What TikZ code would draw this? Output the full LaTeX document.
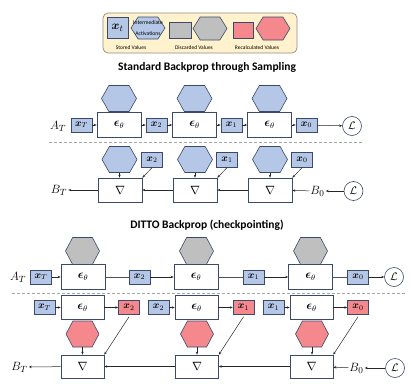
\documentclass[tikz,border=0pt]{standalone}
\usepackage{amsmath}
\usepackage{fontspec}
\newfontfamily\carlito{Carlito}
\usetikzlibrary{arrows.meta,calc}
\definecolor{sblue}{HTML}{B4C7E7}
\definecolor{sred}{HTML}{F4888C}
\definecolor{sgray}{HTML}{BFBFBF}
\definecolor{edgec}{HTML}{3B4A6B}
\definecolor{legbg}{HTML}{FFF2CC}
\definecolor{legedge}{HTML}{8C8C8C}
\definecolor{dashc}{HTML}{A6A6A6}
\definecolor{linec}{HTML}{262626}
\tikzset{
  hexline/.style={draw=edgec, line width=0.6pt},
  hexbox/.style={inner sep=0pt, outer sep=0pt, align=center},
  xb/.style={draw=edgec, fill=sblue, line width=0.6pt, minimum width=21pt, minimum height=14pt, inner sep=0pt, font=\fontsize{10}{10}\selectfont},
  xr/.style={xb, fill=sred},
  eb/.style={draw=edgec, fill=white, line width=0.6pt, minimum width=44pt, minimum height=25pt, inner sep=0pt, font=\fontsize{12}{12}\selectfont},
  nb/.style={eb, minimum height=24pt},
  lab/.style={inner sep=1pt, font=\fontsize{12.5}{12.5}\selectfont},
  lc/.style={draw=edgec, circle, line width=0.6pt, minimum size=19pt, inner sep=0pt, font=\fontsize{11}{11}\selectfont},
  arr/.style={-{Stealth[length=3pt,width=2.4pt]}, draw=linec, line width=0.5pt},
  ln/.style={draw=linec!80, line width=0.7pt},
  dashline/.style={draw=dashc, dashed, line width=0.8pt, dash pattern=on 3pt off 2pt},
  ttl/.style={font=\carlito\bfseries\fontsize{11.5}{12}\selectfont, inner sep=0pt},
  legtxt/.style={font=\carlito\fontsize{5.5}{5.5}\selectfont, inner sep=0pt},
}
\newcommand\hexat[7]{%
  \draw[hexline, fill=#6] ({#2-#4/2},#3) -- ({#2-#4*0.29},{#3-#5/2}) -- ({#2+#4*0.29},{#3-#5/2}) -- ({#2+#4/2},#3) -- ({#2+#4*0.29},{#3+#5/2}) -- ({#2-#4*0.29},{#3+#5/2}) -- cycle;
  \node[hexbox, minimum width=#4pt, minimum height=#5pt] (#1) at (#2,#3) {#7};}
\newcommand\bx[1]{\boldsymbol{x}_{#1}}
\newcommand\ep{\boldsymbol{\epsilon}_\theta}
\begin{document}
\begin{tikzpicture}[x=1pt,y=-1pt]
\useasboundingbox (0,0) rectangle (415,388);
% ---------- legend ----------
\draw[draw=legedge, fill=legbg, rounded corners=5pt, line width=0.7pt] (103,13) rectangle (297,53);
\node[xb, minimum width=21pt, minimum height=21pt, font=\fontsize{13}{13}\selectfont] (lgx) at (117.5,27.5) {$\bx{t}$};
\hexat{lgh1}{148}{28}{34}{22}{sblue}{\carlito\fontsize{5.6}{6}\selectfont Intermediate\\[-0.5pt]\carlito\fontsize{5.6}{6}\selectfont Activations}
\node[draw=edgec, fill=sgray, line width=0.6pt, minimum width=22pt, minimum height=16pt, inner sep=0pt] (lgg) at (180,30) {};
\hexat{lgh2}{210}{28.5}{34}{23}{sgray}{}
\node[draw=edgec, fill=sred, line width=0.6pt, minimum width=20pt, minimum height=16pt, inner sep=0pt] (lgr) at (243,30) {};
\hexat{lgh3}{273}{28.5}{34}{23}{sred}{}
\node[legtxt] (lt1) at (131,48) {Stored Values};
\node[legtxt] (lt2) at (194,48) {Discarded Values};
\node[legtxt] (lt3) at (257,48) {Recalculated Values};
% ---------- titles ----------
\node[ttl] (t1) at (207,67) {Standard Backprop through Sampling};
\node[ttl] (t2) at (207,225) {DITTO Backprop (checkpointing)};
% ---------- row A ----------
\node[lab] (AT1) at (58,126) {$A_T$};
\node[xb] (a0) at (81.5,125) {$\bx{T}$};
\node[eb] (ae1) at (119,125) {$\ep$};
\node[xb] (a1) at (156.5,125) {$\bx{2}$};
\node[eb] (ae2) at (194.5,125) {$\ep$};
\node[xb] (a2) at (231.5,125) {$\bx{1}$};
\node[eb] (ae3) at (269.5,125) {$\ep$};
\node[xb] (a3) at (306.5,125) {$\bx{0}$};
\node[lc] (aL) at (352,126) {$\mathcal{L}$};
\hexat{ah1}{119}{98.5}{35}{26}{sblue}{}
\hexat{ah2}{194.5}{98.5}{35}{26}{sblue}{}
\hexat{ah3}{269.5}{98.5}{35}{26}{sblue}{}
\draw[arr] (a0) -- (ae1);
\draw[arr] (ae1) -- (a1);
\draw[arr] (a1) -- (ae2);
\draw[arr] (ae2) -- (a2);
\draw[arr] (a2) -- (ae3);
\draw[arr] (ae3) -- (a3);
\draw[arr] (a3) -- (aL);
\draw[dashline] (49,142) -- (363,142);
% ---------- row B ----------
\node[lab] (BT1) at (59,190) {$B_T$};
\node[nb] (b1) at (120,190) {$\nabla$};
\node[nb] (b2) at (195,190) {$\nabla$};
\node[nb] (b3) at (270,190) {$\nabla$};
\node[lab] (B01) at (317.5,191) {$B_0$};
\node[lc] (bL) at (353.5,191) {$\mathcal{L}$};
\hexat{bh1}{119.5}{159.5}{35}{26}{sblue}{}
\hexat{bh2}{195}{159.5}{35}{26}{sblue}{}
\hexat{bh3}{270}{159.5}{35}{26}{sblue}{}
\node[xb, minimum height=15pt] (bx1) at (152,160) {$\bx{2}$};
\node[xb, minimum height=15pt] (bx2) at (227,160) {$\bx{1}$};
\node[xb, minimum height=15pt] (bx3) at (302,160) {$\bx{0}$};
\draw[arr] (bL) -- (B01);
\draw[arr] (B01) -- (b3);
\draw[arr] (b3) -- (b2);
\draw[arr] (b2) -- (b1);
\draw[arr] (b1) -- (BT1);
\draw[arr] (bh1.south) -- (b1.north -| bh1.south);
\draw[arr] (bh2.south) -- (b2.north -| bh2.south);
\draw[arr] (bh3.south) -- (b3.north -| bh3.south);
\draw[arr] (bx1.south) -- (b1.north east);
\draw[arr] (bx2.south) -- (b2.north east);
\draw[arr] (bx3.south) -- (b3.north east);
% ---------- row C ----------
\node[lab] (AT2) at (18,277) {$A_T$};
\node[xb] (c0) at (41,277) {$\bx{T}$};
\node[eb] (ce1) at (83,277) {$\ep$};
\node[xb] (c1) at (139.5,277) {$\bx{2}$};
\node[eb] (ce2) at (196,277) {$\ep$};
\node[xb] (c2) at (253.5,277) {$\bx{1}$};
\node[eb] (ce3) at (310.5,277) {$\ep$};
\node[xb] (c3) at (358,277) {$\bx{0}$};
\node[lc] (cL) at (394,277) {$\mathcal{L}$};
\hexat{ch1}{82.5}{251}{34}{27}{sgray}{}
\hexat{ch2}{196.5}{251}{34}{27}{sgray}{}
\hexat{ch3}{310.5}{251}{34}{27}{sgray}{}
\draw[arr] (c0) -- (ce1);
\draw[ln] (ce1) -- (c1);
\draw[arr] (c1) -- (ce2);
\draw[ln] (ce2) -- (c2);
\draw[arr] (c2) -- (ce3);
\draw[ln] (ce3) -- (c3);
\draw[arr] (c3) -- (cL);
\draw[dashline] (12,293) -- (405,293);
% ---------- row D ----------
\node[xb] (d0) at (44.5,307.5) {$\bx{T}$};
\node[eb, minimum width=43pt, minimum height=24pt] (de1) at (82.5,307.5) {$\ep$};
\node[xr] (dr1) at (129,307.5) {$\bx{2}$};
\node[xb] (d1) at (158.5,307.5) {$\bx{2}$};
\node[eb, minimum width=43pt, minimum height=24pt] (de2) at (196.5,307.5) {$\ep$};
\node[xr] (dr2) at (243.5,307.5) {$\bx{1}$};
\node[xb] (d2) at (273.5,307.5) {$\bx{1}$};
\node[eb, minimum width=43pt, minimum height=24pt] (de3) at (311.5,307.5) {$\ep$};
\node[xr] (dr3) at (358,307.5) {$\bx{0}$};
\hexat{dh1}{82.5}{334}{33}{26}{sred}{}
\hexat{dh2}{197}{334}{33}{26}{sred}{}
\hexat{dh3}{312}{334}{33}{26}{sred}{}
\node[lab] (BT2) at (19.5,367) {$B_T$};
\node[nb, minimum width=43pt, minimum height=23pt] (e1) at (82.5,366.5) {$\nabla$};
\node[nb, minimum width=43pt, minimum height=23pt] (e2) at (197,366.5) {$\nabla$};
\node[nb, minimum width=43pt, minimum height=23pt] (e3) at (311.5,366.5) {$\nabla$};
\node[lab] (B02) at (356.5,368) {$B_0$};
\node[lc] (eL) at (395,368) {$\mathcal{L}$};
\draw[arr] (d0) -- (de1);
\draw[arr] (de1) -- (dr1);
\draw[arr] (d1) -- (de2);
\draw[arr] (de2) -- (dr2);
\draw[arr] (d2) -- (de3);
\draw[arr] (de3) -- (dr3);
\draw[arr] (dh1.south) -- (e1.north -| dh1.south);
\draw[arr] (dh2.south) -- (e2.north -| dh2.south);
\draw[arr] (dh3.south) -- (e3.north -| dh3.south);
\draw[arr] ([yshift=-2pt]dr1.south) -- (e1.north east);
\draw[arr] ([yshift=-2pt]dr2.south) -- (e2.north east);
\draw[arr] ([yshift=-2pt]dr3.south) -- (e3.north east);
\draw[arr] (eL) -- (B02);
\draw[arr] (B02) -- (e3);
\draw[arr] (e3) -- (e2);
\draw[arr] (e2) -- (e1);
\draw[arr] (e1) -- (BT2);
\end{tikzpicture}
\end{document}
